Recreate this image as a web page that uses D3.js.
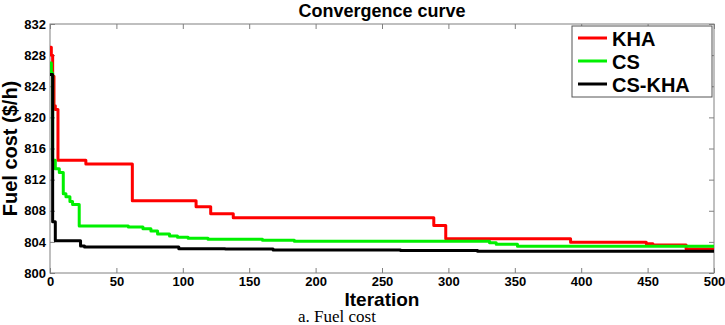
<!DOCTYPE html>
<html>
<head>
<meta charset="utf-8">
<script src="https://cdn.jsdelivr.net/npm/d3@7"></script>
<style>
  body { margin: 0; background: #fff; }
  svg { display: block; font-family: "Liberation Sans", Arial, sans-serif; }
</style>
</head>
<body>
<div id="chart"></div>
<script>
// step breakpoints (iteration, fuel cost)
const khaIter = [0, 1, 2, 3, 4, 6, 27, 62, 110, 121, 138, 289, 298, 392, 449, 454, 479, 500];
const khaCost = [829.0, 828.0, 825.3, 821.5, 821.0, 814.5, 814.0, 809.3, 808.5, 807.6, 807.1, 806.1, 804.4, 803.95, 803.75, 803.6, 803.1, 803.0];

const csIter = [0, 1, 2, 4, 7, 10, 12, 15, 17, 22, 59, 70, 76, 81, 90, 96, 104, 119, 160, 184, 331, 336, 352, 500];
const csCost = [827.0, 825.7, 814.5, 813.4, 812.9, 810.2, 809.8, 809.2, 808.8, 806.05, 805.9, 805.7, 805.4, 805.0, 804.75, 804.6, 804.45, 804.33, 804.22, 804.08, 803.9, 803.7, 803.45, 803.45];

const cskhaIter = [0, 2, 4, 23, 26, 97, 132, 168, 264, 322, 500];
const cskhaCost = [825.5, 806.6, 804.15, 803.47, 803.35, 803.13, 803.08, 802.97, 802.88, 802.8, 802.8];

const seriesNames = ["KHA", "CS", "CS-KHA"];
const seriesColors = ["#ff0000", "#00f000", "#000000"];

const xTicks = [0, 50, 100, 150, 200, 250, 300, 350, 400, 450, 500];
const yTicks = [800, 804, 808, 812, 816, 820, 824, 828, 832];

const width = 725;
const height = 325;
const marginLeft = 50;
const marginRight = 11;
const marginTop = 24;
const marginBottom = 52;

const x = d3.scaleLinear()
    .domain([0, 500])
    .range([marginLeft, width - marginRight]);

const y = d3.scaleLinear()
    .domain([800, 832])
    .range([height - marginBottom, marginTop]);

const svg = d3.select("#chart").append("svg")
    .attr("width", width)
    .attr("height", height)
    .attr("viewBox", [0, 0, width, height]);

const frameColor = "#808080";

svg.append("defs").append("clipPath")
    .attr("id", "plot-clip")
    .append("rect")
    .attr("x", marginLeft)
    .attr("y", marginTop)
    .attr("width", width - marginRight - marginLeft)
    .attr("height", height - marginBottom - marginTop);

// frame
svg.append("rect")
    .attr("x", marginLeft)
    .attr("y", marginTop)
    .attr("width", width - marginRight - marginLeft)
    .attr("height", height - marginBottom - marginTop)
    .attr("fill", "none")
    .attr("stroke", frameColor);

function styleAxis(g) {
    g.select(".domain").remove();
    g.selectAll(".tick line").attr("stroke", frameColor);
    g.selectAll(".tick text")
        .attr("fill", "#000")
        .attr("font-size", 13)
        .attr("font-weight", "bold")
        .attr("font-family", "'Liberation Sans', Arial, sans-serif");
}

svg.append("g")
    .attr("transform", `translate(0,${height - marginBottom})`)
    .call(d3.axisBottom(x).tickValues(xTicks).tickSizeInner(-5).tickSizeOuter(0).tickPadding(4))
    .call(styleAxis);

svg.append("g")
    .attr("transform", `translate(0,${marginTop})`)
    .call(d3.axisTop(x).tickValues(xTicks).tickSizeInner(-5).tickSizeOuter(0).tickFormat(""))
    .call(styleAxis);

svg.append("g")
    .attr("transform", `translate(${marginLeft},0)`)
    .call(d3.axisLeft(y).tickValues(yTicks).tickSizeInner(-5).tickSizeOuter(0).tickPadding(4))
    .call(styleAxis);

svg.append("g")
    .attr("transform", `translate(${width - marginRight},0)`)
    .call(d3.axisRight(y).tickValues(yTicks).tickSizeInner(-5).tickSizeOuter(0).tickFormat(""))
    .call(styleAxis);

// curves
const allSeries = [
    { name: seriesNames[0], iter: khaIter, cost: khaCost, color: seriesColors[0] },
    { name: seriesNames[1], iter: csIter, cost: csCost, color: seriesColors[1] },
    { name: seriesNames[2], iter: cskhaIter, cost: cskhaCost, color: seriesColors[2] }
];

const line = d3.line()
    .x(d => x(d[0]))
    .y(d => y(d[1]))
    .curve(d3.curveStepAfter);

svg.append("g")
    .attr("clip-path", "url(#plot-clip)")
    .selectAll("path")
    .data(allSeries)
    .join("path")
    .attr("fill", "none")
    .attr("stroke", d => d.color)
    .attr("stroke-width", 3)
    .attr("stroke-linejoin", "round")
    .attr("d", d => line(d.iter.map((it, i) => [it, d.cost[i]])));

// title and labels
svg.append("text")
    .attr("x", (marginLeft + width - marginRight) / 2)
    .attr("y", 17)
    .attr("text-anchor", "middle")
    .attr("font-size", 18)
    .attr("font-weight", "bold")
    .text("Convergence curve");

svg.append("text")
    .attr("x", (marginLeft + width - marginRight) / 2)
    .attr("y", 306)
    .attr("text-anchor", "middle")
    .attr("font-size", 19)
    .attr("font-weight", "bold")
    .text("Iteration");

svg.append("text")
    .attr("transform", `translate(17,${(marginTop + height - marginBottom) / 2}) rotate(-90)`)
    .attr("text-anchor", "middle")
    .attr("font-size", 20)
    .attr("font-weight", "bold")
    .text("Fuel cost ($/h)");

svg.append("text")
    .attr("x", 337)
    .attr("y", 322)
    .attr("text-anchor", "middle")
    .attr("font-size", 17)
    .attr("font-family", "'Liberation Serif', 'Times New Roman', serif")
    .text("a. Fuel cost");

// legend
const legend = svg.append("g")
    .attr("transform", "translate(572,26)");

legend.append("rect")
    .attr("width", 140)
    .attr("height", 71)
    .attr("fill", "#fff")
    .attr("stroke", "#555");

const item = legend.selectAll("g")
    .data(allSeries)
    .join("g")
    .attr("transform", (d, i) => `translate(0,${12 + i * 23})`);

item.append("line")
    .attr("x1", 6)
    .attr("x2", 35)
    .attr("stroke", d => d.color)
    .attr("stroke-width", 3);

item.append("text")
    .attr("x", 40)
    .attr("y", 8)
    .attr("font-size", 20)
    .attr("font-weight", "bold")
    .text(d => d.name);
</script>
</body>
</html>
